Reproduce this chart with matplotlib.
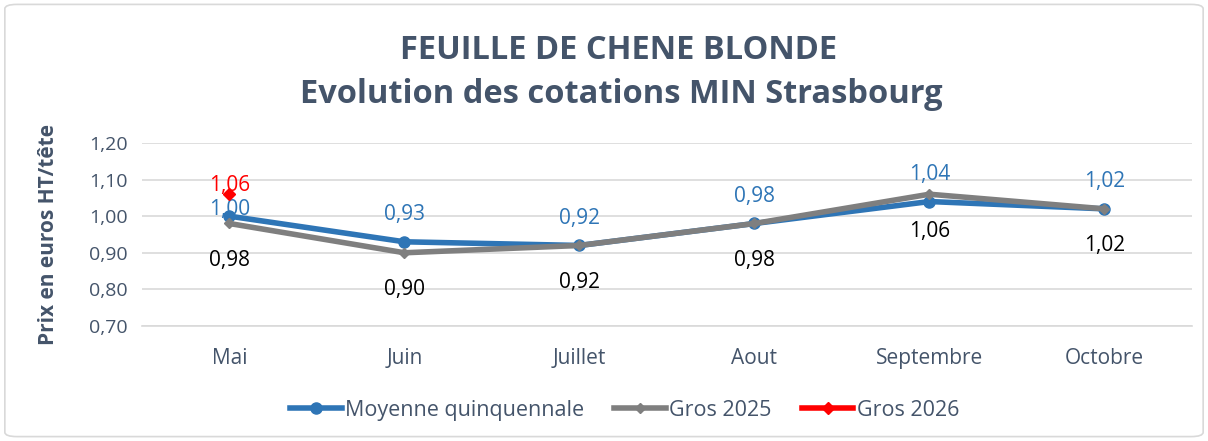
import matplotlib.pyplot as plt
from matplotlib.patches import FancyBboxPatch

plt.rcParams['font.family'] = ['Open Sans', 'DejaVu Sans']

# data
months = ["Mai", "Juin", "Juillet", "Aout", "Septembre", "Octobre"]
moyenne = [1.00, 0.93, 0.92, 0.98, 1.04, 1.02]
gros_2025 = [0.98, 0.90, 0.92, 0.98, 1.06, 1.02]
gros_2026 = [1.06]
yticks = [0.70, 0.80, 0.90, 1.00, 1.10, 1.20]

slate = "#44546A"
blue = "#2E75B6"
grey = "#7F7F7F"
red = "#FF0000"

fig = plt.figure(figsize=(12.08, 4.41), dpi=100)
ax = fig.add_axes([0.1175, 0.2608, 0.8692, 0.4150])

x = [i + 0.5 for i in range(len(months))]

ax.plot(x, moyenne, color=blue, lw=4, marker="o", ms=8, label="Moyenne quinquennale", zorder=3)
ax.plot(x, gros_2025, color=grey, lw=4, marker="D", ms=5, label="Gros 2025", zorder=4)
ax.plot(x[:len(gros_2026)], gros_2026, color=red, lw=4, marker="D", ms=6, label="Gros 2026", zorder=5)

fmt = lambda v: f"{v:.2f}".replace(".", ",")
for i, (xi, v) in enumerate(zip(x, moyenne)):
    off = -3 if i == 0 else 12
    ax.annotate(fmt(v), (xi, v), xytext=(0, off), textcoords="offset points",
                ha="center", va="bottom", color=blue, fontsize=15)
for xi, v in zip(x, gros_2025):
    ax.annotate(fmt(v), (xi, v), xytext=(0, -19), textcoords="offset points",
                ha="center", va="top", color="black", fontsize=15)
for xi, v in zip(x, gros_2026):
    ax.annotate(fmt(v), (xi, v), xytext=(0, -1), textcoords="offset points",
                ha="center", va="bottom", color=red, fontsize=15)

ax.set_xlim(0, len(months))
ax.set_ylim(0.70, 1.20)
ax.set_yticks(yticks)
ax.set_yticklabels([fmt(t) for t in yticks], color=slate, fontsize=14)
ax.set_xticks(x)
ax.set_xticklabels(months, color=slate, fontsize=15)
ax.tick_params(length=0, pad=10)
ax.tick_params(axis="x", pad=16)
ax.grid(axis="y", color="#D9D9D9", lw=1.2)
ax.set_axisbelow(True)
for s in ["top", "right", "left"]:
    ax.spines[s].set_visible(False)
ax.spines["bottom"].set_color("#D9D9D9")
ax.spines["bottom"].set_linewidth(1.2)

ax.set_ylabel("Prix en euros HT/tête", color=slate, fontsize=15, fontweight="bold", labelpad=22)

fig.text(0.512, 0.885, "FEUILLE DE CHENE BLONDE", ha="center", va="center",
         fontsize=23.5, fontweight="bold", color=slate)
fig.text(0.514, 0.785, "Evolution des cotations MIN Strasbourg", ha="center", va="center",
         fontsize=23.5, fontweight="bold", color=slate)

leg = fig.legend(loc="center", bbox_to_anchor=(0.517, 0.07), ncol=3, frameon=False,
                 fontsize=15.5, handlelength=2.4, handletextpad=0.15, columnspacing=1.4)
for t in leg.get_texts():
    t.set_color(slate)

border = FancyBboxPatch((0.004, 0.01), 0.992, 0.98, boxstyle="round,pad=0,rounding_size=0.01",
                        transform=fig.transFigure, fill=False, edgecolor="#D9D9D9", lw=1.2)
fig.patches.append(border)

fig.savefig("out.png", dpi=100)
